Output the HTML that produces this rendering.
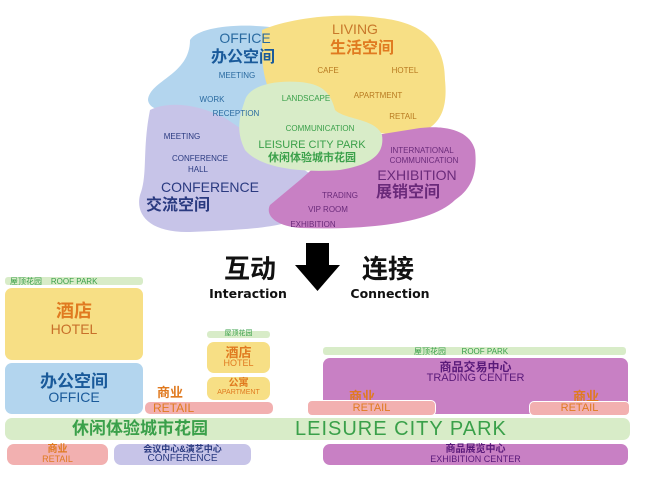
<!DOCTYPE html>
<html><head><meta charset="utf-8"><style>
body{margin:0;width:650px;height:478px;background:#fff;position:relative;overflow:hidden;font-family:"Liberation Sans","Noto Sans CJK SC",sans-serif}
.a{position:absolute;white-space:nowrap}
.b{position:absolute;border-radius:7px}
.c{text-align:center;line-height:1}
</style></head><body>
<svg class="a" style="left:0;top:0" width="650" height="240">
<path d="M190 40 C200 25 250 22 290 30 C320 38 315 70 300 95 L285 140 L260 150 L215 125 C180 110 150 115 148 100 C150 80 190 75 190 40Z" fill="#b3d5ee"/>
<path d="M262 30 C290 18 340 12 380 18 C420 22 445 40 445 80 C448 110 440 130 410 135 L330 130 L275 100 C260 80 262 50 262 30Z" fill="#f7df85"/>
<path d="M150 110 C170 100 200 105 225 118 L270 148 L320 180 L300 215 C290 228 240 230 190 232 C150 233 135 215 140 195 C148 175 142 150 150 110Z" fill="#c7c4e8"/>
<path d="M345 140 L420 128 C445 125 470 130 475 150 C478 175 470 190 455 200 C430 225 360 230 300 228 C275 226 265 215 270 205 L300 180 Z" fill="#c880c4"/>
<path d="M245 100 C250 85 275 80 300 82 C320 84 330 90 335 110 C345 120 375 118 382 135 C385 155 370 165 340 170 C300 173 260 168 245 150 C235 130 240 115 245 100Z" fill="#d8ecc8"/>
<g font-family="Liberation Sans" font-size="8" fill="#2a6aa0" text-anchor="middle">
<text x="245" y="43" font-size="14">OFFICE</text>
<text x="237" y="78">MEETING</text><text x="212" y="102">WORK</text><text x="236" y="116">RECEPTION</text>
<text x="355" y="34" font-size="14" fill="#c8782a">LIVING</text>
<text x="328" y="73" fill="#b87a20">CAFE</text><text x="405" y="73" fill="#b87a20">HOTEL</text>
<text x="378" y="98" fill="#b87a20">APARTMENT</text><text x="403" y="119" fill="#b87a20">RETAIL</text>
<text x="306" y="101" fill="#3aa04a">LANDSCAPE</text>
<text x="320" y="131" fill="#3aa04a">COMMUNICATION</text>
<text x="312" y="148" font-size="11" fill="#3aa04a">LEISURE CITY PARK</text>
<text x="182" y="139" fill="#2a3a80">MEETING</text>
<text x="200" y="161" fill="#2a3a80">CONFERENCE</text><text x="198" y="172" fill="#2a3a80">HALL</text>
<text x="210" y="192" font-size="14" fill="#2a3a80">CONFERENCE</text>
<text x="422" y="153" fill="#6a2a7a">INTERNATIONAL</text><text x="424" y="163" fill="#6a2a7a">COMMUNICATION</text>
<text x="417" y="180" font-size="14" fill="#6a2a7a">EXHIBITION</text>
<text x="340" y="198" fill="#6a2a7a">TRADING</text><text x="328" y="212" fill="#6a2a7a">VIP ROOM</text><text x="313" y="227" fill="#6a2a7a">EXHIBITION</text>
</g>
<g font-family="Noto Sans CJK SC" font-weight="bold" text-anchor="middle">
<text x="243" y="62" font-size="16" fill="#1a5a9a">办公空间</text>
<text x="362" y="53" font-size="16" fill="#e07a20">生活空间</text>
<text x="312" y="161" font-size="11" fill="#3aa04a">休闲体验城市花园</text>
<text x="178" y="210" font-size="16" fill="#2a3a80">交流空间</text>
<text x="408" y="197" font-size="16" fill="#6a2a7a">展销空间</text>
</g>
</svg>
<svg class="a" style="left:0;top:240" width="650" height="60">
<path d="M306 3 H329 V25 H340 L317.5 51 L295 25 H306Z" fill="#000"/>
<g font-family="Noto Sans CJK SC" font-weight="bold" font-size="26" fill="#111" text-anchor="middle">
<text x="250" y="38">互动</text><text x="388" y="38">连接</text></g>
<g font-family="DejaVu Sans" font-weight="bold" font-size="12.5" fill="#111" text-anchor="middle">
<text x="248" y="58">Interaction</text><text x="390" y="58">Connection</text></g>
</svg>
<!-- left column -->
<div class="b" style="left:5px;top:277px;width:138px;height:8px;background:#d8ecc8;border-radius:3px"></div>
<div class="a" style="left:10px;top:276px;font-size:8px;color:#3aa04a">屋顶花园 &nbsp;&nbsp; ROOF PARK</div>
<div class="b c" style="left:5px;top:288px;width:138px;height:72px;background:#f7df85;color:#e07a20"><div style="font-size:18px;font-weight:bold;margin-top:14px">酒店</div><div style="font-size:14px;margin-top:2px;color:#c8702a">HOTEL</div></div>
<div class="b c" style="left:5px;top:363px;width:138px;height:51px;background:#b3d5ee;color:#1a5a9a"><div style="font-size:17px;font-weight:bold;margin-top:10px">办公空间</div><div style="font-size:14px;margin-top:0px">OFFICE</div></div>
<!-- middle -->
<div class="b" style="left:207px;top:331px;width:63px;height:7px;background:#d8ecc8;border-radius:3px"></div>
<div class="a c" style="left:207px;top:330px;width:63px;font-size:7px;color:#3aa04a">屋顶花园</div>
<div class="b c" style="left:207px;top:342px;width:63px;height:31px;background:#f7df85;color:#e07a20"><div style="font-size:13px;font-weight:bold;margin-top:4px">酒店</div><div style="font-size:9px">HOTEL</div></div>
<div class="b c" style="left:207px;top:377px;width:63px;height:23px;background:#f7df85;color:#e07a20"><div style="font-size:10px;font-weight:bold;margin-top:2px">公寓</div><div style="font-size:7px">APARTMENT</div></div>
<div class="a c" style="left:157px;top:386px;font-size:13px;font-weight:bold;color:#e07a20">商业</div>
<div class="b" style="left:145px;top:402px;width:128px;height:12px;background:#f2b0b0;border-radius:5px"></div>
<div class="a" style="left:153px;top:401px;color:#e07a20;font-size:12px;line-height:14px">RETAIL</div>
<!-- right -->
<div class="b" style="left:323px;top:347px;width:303px;height:8px;background:#d8ecc8;border-radius:3px"></div>
<div class="a" style="left:414px;top:346px;font-size:8px;color:#3aa04a">屋顶花园 &nbsp;&nbsp;&nbsp;&nbsp;&nbsp; ROOF PARK</div>
<div class="b c" style="left:323px;top:358px;width:305px;height:56px;background:#c880c4;color:#5a1a7a"><div style="font-size:12px;font-weight:bold;margin-top:3px">商品交易中心</div><div style="font-size:11px">TRADING CENTER</div></div>
<div class="a" style="left:349px;top:386px;font-size:13px;font-weight:bold;color:#e07a20">商业</div>
<div class="a" style="left:573px;top:386px;font-size:13px;font-weight:bold;color:#e07a20">商业</div>
<div class="b" style="left:307px;top:400px;width:127px;height:14px;background:#f2b0b0;border:1px solid #fff;border-radius:5px"></div>
<div class="a c" style="left:307px;top:402px;width:129px;color:#e07a20;font-size:11px;line-height:12px">RETAIL</div>
<div class="b" style="left:529px;top:401px;width:99px;height:13px;background:#f2b0b0;border:1px solid #fff;border-radius:5px"></div>
<div class="a c" style="left:529px;top:402px;width:101px;color:#e07a20;font-size:11px;line-height:12px">RETAIL</div>
<!-- park bar -->
<div class="b" style="left:5px;top:418px;width:625px;height:22px;background:#d8ecc8"></div>
<div class="a" style="left:72px;top:418px;font-size:17px;font-weight:bold;color:#3aa04a;line-height:22px">休闲体验城市花园</div>
<div class="a" style="left:295px;top:418px;font-size:20px;color:#3aa04a;line-height:22px;letter-spacing:1px">LEISURE CITY PARK</div>
<!-- bottom -->
<div class="b c" style="left:7px;top:444px;width:101px;height:21px;background:#f2b0b0;color:#e07a20"><div style="font-size:10px;font-weight:bold;margin-top:1px">商业</div><div style="font-size:9px">RETAIL</div></div>
<div class="b c" style="left:114px;top:444px;width:137px;height:21px;background:#c7c4e8;color:#2a3a80"><div style="font-size:9px;font-weight:bold;margin-top:1px">会议中心&amp;演艺中心</div><div style="font-size:10px">CONFERENCE</div></div>
<div class="b c" style="left:323px;top:444px;width:305px;height:21px;background:#c880c4;color:#5a1a7a"><div style="font-size:10px;font-weight:bold;margin-top:1px">商品展览中心</div><div style="font-size:9px">EXHIBITION CENTER</div></div>
</body></html>
